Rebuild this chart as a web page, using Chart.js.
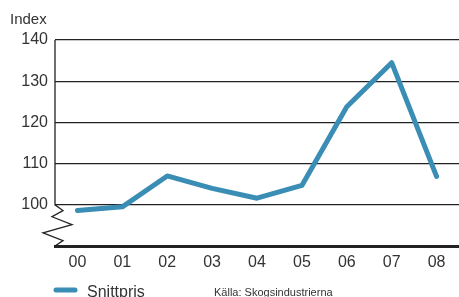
<!DOCTYPE html>
<html><head><meta charset="utf-8">
<script src="https://cdn.jsdelivr.net/npm/chart.js@4/dist/chart.umd.min.js"></script>
<style>html,body{margin:0;padding:0;background:#fff}#wrap{width:459px;height:297px;position:relative}</style>
</head><body><div id="wrap"><canvas id="c"></canvas></div>
<script>
const categories = ["00","01","02","03","04","05","06","07","08"];
const snittpris = [98.6, 99.5, 107.0, 104.0, 101.6, 104.7, 123.8, 134.5, 106.9];
const yTicks = [100, 110, 120, 130, 140];
const seriesLabel = "Snittpris";
const yAxisLabel = "Index";
const sourceNote = "Källa: Skogsindustrierna";

const lineColor = "#3a8db4";
const FONT = "'Liberation Sans', Arial, sans-serif";

const decor = {
  id: 'decor',
  afterDraw(chart) {
    const ctx = chart.ctx, ca = chart.chartArea, y = chart.scales.y;
    const y100 = y.getPixelForValue(100);
    ctx.save();
    ctx.strokeStyle = '#222'; ctx.lineWidth = 1.3; ctx.lineJoin = 'miter';
    ctx.beginPath();
    ctx.moveTo(ca.left, ca.top);
    ctx.lineTo(ca.left, y100);
    const b = ca.bottom;
    const h = b - y100;
    ctx.lineTo(ca.left + 8, y100 + h * 0.14);
    ctx.lineTo(ca.left - 3, y100 + h * 0.29);
    ctx.lineTo(ca.left + 17, y100 + h * 0.48);
    ctx.lineTo(ca.left - 12, y100 + h * 0.68);
    ctx.lineTo(ca.left + 8, y100 + h * 0.87);
    ctx.lineTo(ca.left, b);
    ctx.stroke();
    // Index label
    ctx.fillStyle = '#333';
    ctx.font = '15px ' + FONT;
    ctx.textAlign = 'left'; ctx.textBaseline = 'alphabetic';
    ctx.fillText(yAxisLabel, 10, 24);
    // legend
    ctx.strokeStyle = lineColor; ctx.lineWidth = 5; ctx.lineCap = 'round';
    ctx.beginPath(); ctx.moveTo(56, 290); ctx.lineTo(75, 290); ctx.stroke();
    ctx.fillStyle = '#333';
    ctx.font = '16px ' + FONT;
    ctx.fillText(seriesLabel, 87, 297);
    ctx.font = '11px ' + FONT;
    ctx.fillText(sourceNote, 214, 296);
    ctx.restore();
  }
};

new Chart(document.getElementById('c'), {
  type: 'line',
  data: {
    labels: categories,
    datasets: [{
      label: seriesLabel,
      data: snittpris,
      borderColor: lineColor,
      backgroundColor: lineColor,
      borderWidth: 5,
      pointRadius: 0,
      tension: 0,
      borderJoinStyle: 'round',
      borderCapStyle: 'round'
    }]
  },
  options: {
    responsive: true,
    maintainAspectRatio: false,
    animation: false,
    layout: { padding: { top: 40, right: 0, bottom: 0, left: 0 } },
    plugins: { legend: { display: false }, tooltip: { enabled: false } },
    scales: {
      x: {
        offset: true,
        grid: { display: false, drawTicks: false },
        border: { display: true, color: '#222', width: 3 },
        ticks: { color: '#333', font: { family: FONT, size: 16 }, padding: 7, maxRotation: 0 },
        afterFit(s) { s.height = 51; }
      },
      y: {
        min: 90, max: 140,
        afterBuildTicks(s) { s.ticks = [90].concat(yTicks).map(v => ({ value: v })); },
        grid: {
          drawTicks: false,
          color: c => c.tick && c.tick.value === 90 ? 'rgba(0,0,0,0)' : '#222',
          lineWidth: 1.3
        },
        border: { display: false },
        ticks: {
          color: '#333', font: { family: FONT, size: 16 }, padding: 7,
          callback: v => v === 90 ? '' : String(v)
        },
        afterFit(s) { s.width = 55; }
      }
    }
  },
  plugins: [decor]
});
</script></body></html>
